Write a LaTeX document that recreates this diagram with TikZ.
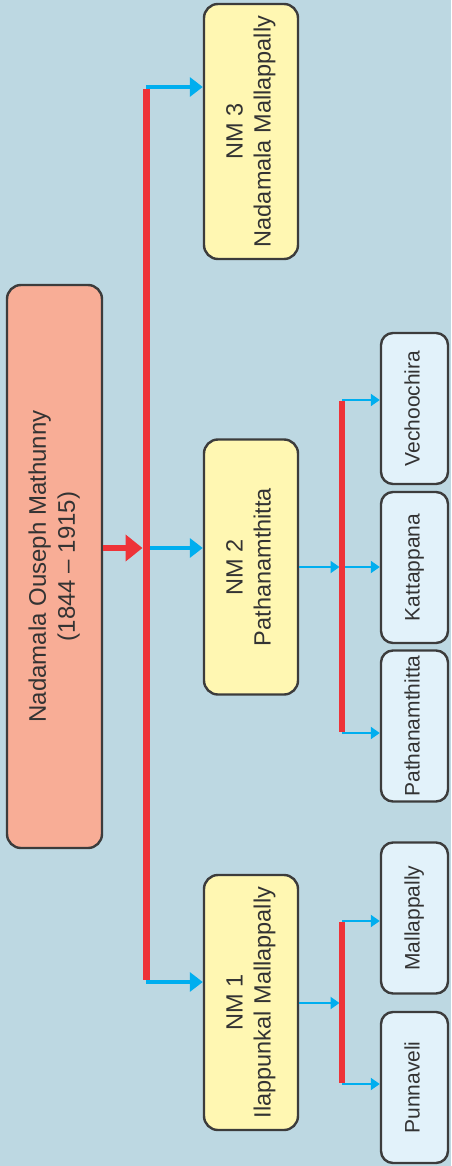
\documentclass[tikz,border=0pt]{standalone}
\usepackage{fontspec}
\setmainfont{Liberation Sans}
\usepackage{graphicx}
\usetikzlibrary{arrows.meta,positioning,calc}

\definecolor{bgblue}{HTML}{BDD8E2}
\definecolor{rootfill}{HTML}{F8AD96}
\definecolor{nmfill}{HTML}{FFF7B2}
\definecolor{placefill}{HTML}{E2F2FA}
\definecolor{edgegray}{HTML}{3C3C3C}
\definecolor{linered}{HTML}{EE3338}
\definecolor{lineblue}{HTML}{00AEEF}

\newcommand{\uptext}[1]{\rotatebox{90}{\begin{tabular}{@{}c@{}}#1\end{tabular}}}

\tikzset{
  box/.style={draw=edgegray, line width=2.4pt, rounded corners=14pt, inner sep=0pt, text=black!80},
  rootbox/.style={box, fill=rootfill, minimum width=95pt, minimum height=563pt, font=\fontsize{24}{29}\selectfont},
  nmbox/.style={box, fill=nmfill, minimum width=94pt, minimum height=255pt, font=\fontsize{23.5}{28}\selectfont},
  placebox/.style={box, fill=placefill, minimum width=67pt, minimum height=151pt, rounded corners=12pt, font=\fontsize{21}{25}\selectfont},
  redbar/.style={draw=linered, line width=7pt},
  subbar/.style={draw=linered, line width=5.5pt},
  redarrow/.style={draw=linered, line width=6pt, -{Triangle[length=17pt,width=26pt]}},
  bluearrow/.style={draw=lineblue, line width=3.5pt, -{Triangle[length=13pt,width=19pt]}},
  smallarrow/.style={draw=lineblue, line width=2pt, -{Triangle[length=9pt,width=12pt]}},
}

\begin{document}
\begin{tikzpicture}[x=1pt,y=-1pt]
  \fill[bgblue] (0,0) rectangle (451,1166);
  \useasboundingbox (0,0) rectangle (451,1166);
%%
  % Node: root
  \node[rootbox] (root) at (54.5,566.5) {\uptext{Nadamala Ouseph Mathunny\\(1844 -- 1915)}};
  % Node: NM3
  \node[nmbox] (nm3) at (251,131.5) {\uptext{NM 3\\Nadamala Mallappally}};
  % Node: NM2
  \node[nmbox] (nm2) at (251,567) {\uptext{NM 2\\Pathanamthitta}};
  % Node: NM1
  \node[nmbox] (nm1) at (251,1002.5) {\uptext{NM 1\\Ilappunkal Mallappally}};
  % Node: places of NM2
  \node[placebox] (vech) at (414.5,408.5) {\uptext{Vechoochira}};
  \node[placebox] (katt) at (414.5,567.5) {\uptext{Kattappana}};
  \node[placebox] (path) at (414.5,726) {\uptext{Pathanamthitta}};
  % Node: places of NM1
  \node[placebox] (mall) at (414.5,918) {\uptext{Mallappally}};
  \node[placebox] (punn) at (414.5,1087.5) {\uptext{Punnaveli}};
%%
  \coordinate (sp3) at (146,87);
  \coordinate (sp2) at (146,548);
  \coordinate (sp1) at (146,982);
  \coordinate (bt2) at (342,400);
  \coordinate (bm2) at (342,567);
  \coordinate (bb2) at (342,733);
  \coordinate (bt1) at (342,921);
  \coordinate (bm1) at (342,1003);
  \coordinate (bb1) at (342,1084);
  % Edge: root -> NM3, NM2, NM1
  \draw[redarrow] (root.east |- sp2) -- ([xshift=-3.5pt]sp2);
  \draw[bluearrow] (sp3) -- (sp3 -| nm3.west);
  \draw[bluearrow] (sp2) -- (sp2 -| nm2.west);
  \draw[bluearrow] (sp1) -- (sp1 -| nm1.west);
  \draw[redbar] ([yshift=-2pt]sp3) -- ([yshift=2pt]sp1);
  % Edge: NM2 -> places
  \draw[smallarrow] (nm2.east |- bm2) -- ([xshift=-2.5pt]bm2);
  \draw[smallarrow] (bt2) -- (bt2 -| vech.west);
  \draw[smallarrow] (bm2) -- (bm2 -| katt.west);
  \draw[smallarrow] (bb2) -- (bb2 -| path.west);
  \draw[subbar] ([yshift=-1pt]bt2) -- ([yshift=1pt]bb2);
  % Edge: NM1 -> places
  \draw[smallarrow] (nm1.east |- bm1) -- ([xshift=-2.5pt]bm1);
  \draw[smallarrow] (bt1) -- (bt1 -| mall.west);
  \draw[smallarrow] (bb1) -- (bb1 -| punn.west);
  \draw[subbar] ([yshift=-1pt]bt1) -- ([yshift=1pt]bb1);
%
\end{tikzpicture}
\end{document}
